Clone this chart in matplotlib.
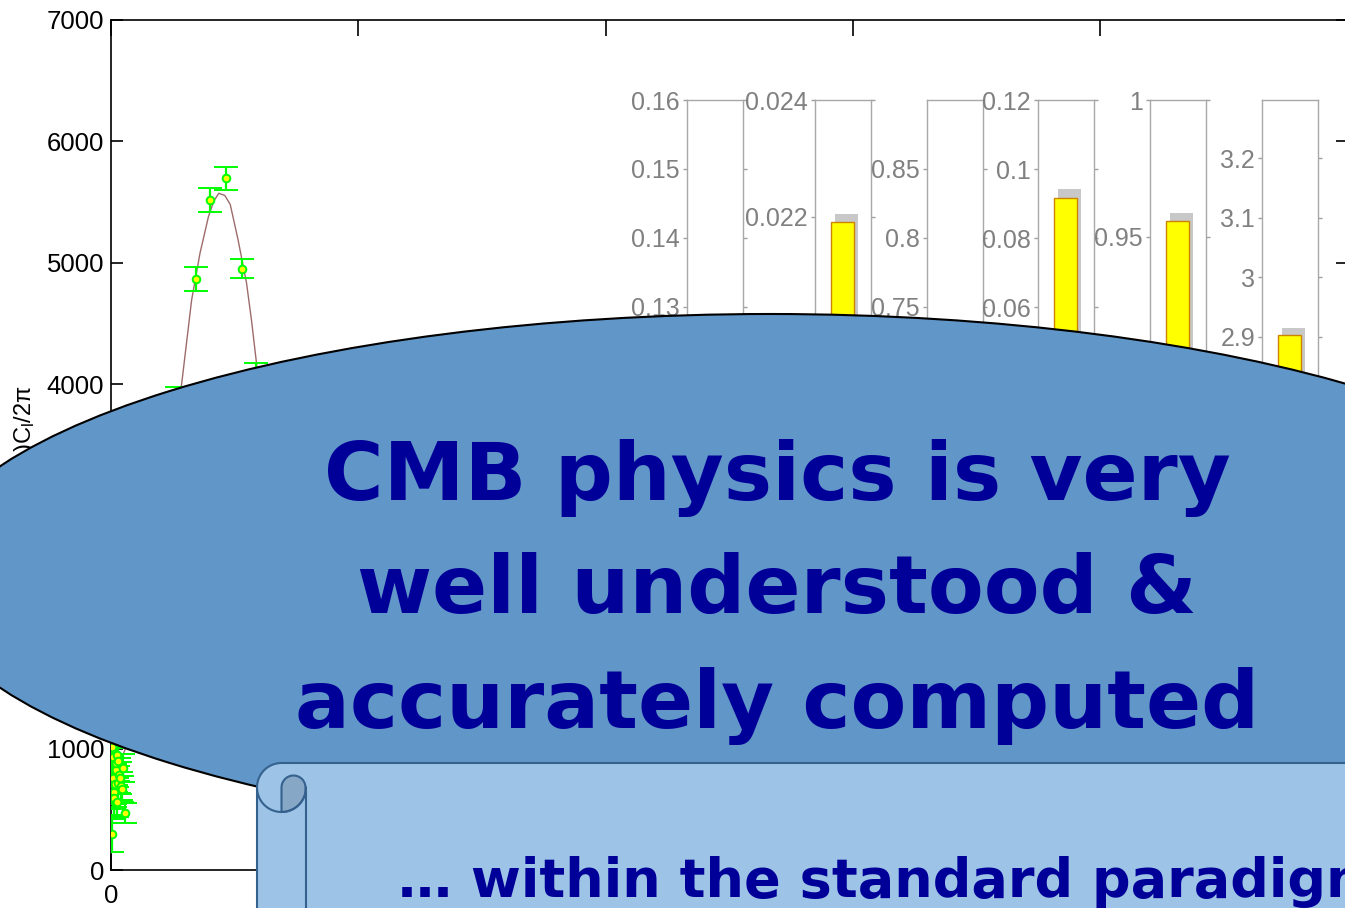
import numpy as np
import matplotlib
matplotlib.use("Agg")
import matplotlib.pyplot as plt
from matplotlib import font_manager
from matplotlib.patches import Ellipse

# --- TT band powers, l(l+1)C_l/2pi [uK^2] ---------------------------------
ell_lowl = [2, 3, 4, 5, 6, 7, 8, 9, 10, 11, 12, 13, 14, 15, 16, 18, 20, 22, 25, 28]
dl_lowl = [300, 1010, 760, 930, 640, 593, 700, 706, 824, 880, 950, 560, 720, 900,
           780, 758, 690, 667, 840, 469]
err_lowl = [150, 330, 260, 280, 190, 170, 180, 165, 180, 180, 190, 120, 140, 165,
            145, 135, 115, 105, 115, 80]

ell_bin = [45, 72, 102, 133, 172, 201, 233, 265, 294, 326, 360, 400, 450, 500,
           550, 600, 650, 700, 750, 800, 850, 900]
dl_bin = [1450, 1900, 2750, 3880, 4868, 5519, 5697, 4953, 4080, 3300, 2500, 1850,
          1900, 2250, 2500, 2350, 2000, 1900, 2250, 2400, 2200, 1900]
err_bin = [120, 110, 100, 100, 100, 100, 95, 81, 96, 90, 85, 80, 85, 95, 100, 110,
           120, 140, 170, 210, 260, 320]

# best-fit model spectrum
ell_th = [2, 4, 6, 8, 10, 12, 15, 20, 28, 40, 60, 80, 100, 120, 143, 163, 180, 197,
          208, 218, 230, 241, 257, 274, 284, 295, 320, 350, 380, 410, 450, 500, 540,
          580, 620, 670, 720, 770, 810, 850, 900, 950, 1000]
dl_th = [1050, 960, 900, 860, 850, 855, 870, 900, 988, 1100, 1400, 1900, 2600, 3350,
         4008, 4694, 5081, 5380, 5510, 5573, 5555, 5482, 5188, 4834, 4529, 4145, 3300,
         2500, 1950, 1750, 1900, 2300, 2520, 2450, 2150, 1850, 1900, 2250, 2420, 2350,
         2000, 1700, 1500]

x_ticks = [0, 500, 1000, 1500, 2000, 2500]
x_ticklabels = ["0", "", "", "", "", ""]   # the rest sit under the scroll
y_ticks = [0, 1000, 2000, 3000, 4000, 5000, 6000, 7000]

# --- parameter panels ------------------------------------------------------
panel_ticks = [[0.13, 0.14, 0.15, 0.16], [0.022, 0.024], [0.75, 0.8, 0.85],
               [0.06, 0.08, 0.1, 0.12], [0.95, 1], [2.9, 3, 3.1, 3.2]]
panel_ylim = [(0.0846, 0.16), (0.01511, 0.024), (0.523, 0.9), (-0.0307, 0.12),
              (0.8102, 1.0), (2.4236, 3.2975)]
fit_value = [0.112, 0.02191, 0.70, 0.0915, 0.9558, 2.903]
alt_value = [0.115, 0.02205, 0.72, 0.0941, 0.9588, 2.915]

headline = ["CMB physics is very", "well understood &", "accurately computed"]
subline = "\u2026 within the standard paradigm"

W, H = 1345, 908
available = {f.name for f in font_manager.fontManager.ttflist}
NARROW = "Liberation Sans Narrow" if "Liberation Sans Narrow" in available else "Liberation Sans"
plt.rcParams["font.family"] = [NARROW, "DejaVu Sans"]
plt.rcParams["mathtext.fontset"] = "custom"
plt.rcParams["mathtext.rm"] = NARROW
plt.rcParams["mathtext.it"] = NARROW + ":italic"
plt.rcParams["mathtext.bf"] = NARROW + ":bold"


def px_box(x0, y0, x1, y1):
    """pixel rectangle (top-left origin) -> figure fraction [l, b, w, h]"""
    return [x0 / W, 1 - y1 / H, (x1 - x0) / W, (y1 - y0) / H]


fig = plt.figure(figsize=(W / 100, H / 100), dpi=100)

# main power spectrum
ax = fig.add_axes(px_box(111, 20, 1347.5, 870))
ax.plot(ell_th, dl_th, color="#9e6b6b", lw=1.0, zorder=2)
ax.errorbar(ell_lowl + ell_bin, dl_lowl + dl_bin, yerr=err_lowl + err_bin,
            fmt="o", ms=5.5, mfc="yellow", mec="#00ff00", mew=1.4,
            ecolor="#00ff00", elinewidth=1.6, capsize=8.6, capthick=2.0, zorder=3)
ax.set_xlim(0, 2500)
ax.set_ylim(0, 7000)
ax.set_xticks(x_ticks)
ax.set_xticklabels(x_ticklabels)
ax.set_yticks(y_ticks)
ax.tick_params(direction="in", top=True, right=True, width=1.2, labelsize=18.5)
ax.tick_params(axis="x", length=11.5, pad=10)
ax.tick_params(axis="y", length=8.6, pad=5)
for s in ax.spines.values():
    s.set_linewidth(1.2)
ax.text(-0.0696, 0.5, r"$\mathrm{l(l+1)C_l/2\pi}$", transform=ax.transAxes,
        rotation=90, ha="center", va="center", fontsize=17)

# small parameter panels
panel_left = [687, 815, 927, 1038, 1150, 1262]
for x0, ticks, lim, v, g in zip(panel_left, panel_ticks, panel_ylim, fit_value, alt_value):
    pax = fig.add_axes(px_box(x0, 100, x0 + 56, 620))
    pax.bar(0.566, g - lim[0], width=0.416, bottom=lim[0], color="#c8c8c8", zorder=2)
    pax.bar(0.488, v - lim[0], width=0.405, bottom=lim[0], color="#ffff00",
            edgecolor="#cc8400", lw=1.0, zorder=3)
    pax.set_xlim(0, 1)
    pax.set_ylim(*lim)
    pax.set_xticks([])
    pax.set_yticks(ticks)
    pax.set_yticklabels([f"{t:g}" for t in ticks])
    pax.tick_params(axis="y", direction="out", right=True, length=3, width=1,
                    pad=2, labelsize=18, color="#a0a0a0", labelcolor="#808080")
    for s in pax.spines.values():
        s.set_color("#a8a8a8")
        s.set_linewidth(1.0)

# callout and scroll drawn in pixel space over everything
ov = fig.add_axes([0, 0, 1, 1])
ov.set_xlim(0, W)
ov.set_ylim(H, 0)
ov.axis("off")
ov.add_patch(Ellipse((770, 577), 1698, 526, fc="#6196c8", ec="black", lw=1.5))

edge = "#35618f"
r, cx, cy = 24.5, 281.5, 787.5
t = np.linspace(np.pi, 1.5 * np.pi, 20)
corner = np.column_stack([cx + r * np.cos(t), cy + r * np.sin(t)])
body = np.vstack([[257, 930], corner, [1360, 763], [1360, 930]])
ov.fill(body[:, 0], body[:, 1], fc="#9dc3e6", ec=edge, lw=1.5)

# rolled-up end of the scroll
ts = np.linspace(np.pi, 2 * np.pi, 20)
cap = np.column_stack([293.5 + 12 * np.cos(ts), cy + 12 * np.sin(ts)])
a0 = np.arctan2(np.sqrt(r ** 2 - 24 ** 2), 24)
tb = np.linspace(a0, np.pi / 2, 15)
under = np.column_stack([cx + r * np.cos(tb), cy + r * np.sin(tb)])
tab = np.vstack([[281.5, 812], cap, under])
ov.fill(tab[:, 0], tab[:, 1], fc="#87a7c6", ec=edge, lw=1.5)
tc = np.linspace(np.pi, 0, 40)
ov.plot(cx + r * np.cos(tc), cy + r * np.sin(tc), color=edge, lw=1.5)
ov.plot([305.5, 305.5], [792.4, 930], color=edge, lw=1.5)

for line, yb in zip(headline, [500, 613, 728]):
    ov.text(777, yb, line, ha="center", va="baseline", fontsize=58.5,
            fontweight="bold", color="#000099", family="DejaVu Sans")
ov.text(398, 897, subline, ha="left", va="baseline", fontsize=39,
        fontweight="bold", color="#000099", family="DejaVu Sans")

fig.savefig("out.png", dpi=100)
